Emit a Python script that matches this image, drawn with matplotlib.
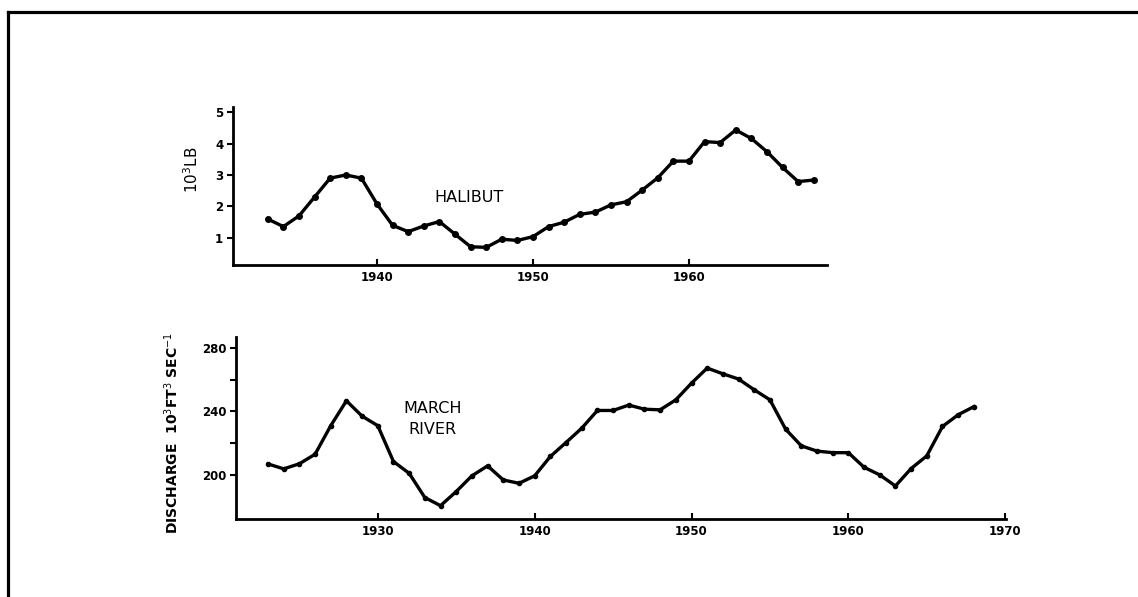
import matplotlib
matplotlib.use("Agg")
import matplotlib.pyplot as plt
from matplotlib.lines import Line2D

# halibut catch, 10^3 lb
hal_years = list(range(1933, 1969))
hal_vals = [1.6, 1.36, 1.7, 2.3, 2.9, 3.0, 2.9, 2.08, 1.4, 1.2, 1.38, 1.52,
            1.12, 0.72, 0.7, 0.96, 0.92, 1.04, 1.36, 1.5, 1.75, 1.82, 2.05, 2.15,
            2.52, 2.91, 3.44, 3.44, 4.06, 4.03, 4.43, 4.16, 3.74, 3.24, 2.79, 2.84]

# march river discharge, 10^3 ft^3 sec^-1
riv_years = list(range(1923, 1969))
riv_vals = [206.9, 203.8, 207, 213, 231, 246.7, 237, 231, 208.4, 201, 185.7, 180.6,
            189.5, 199.4, 205.7, 196.8, 194.7, 199.4, 211.6, 220.4, 229.4, 240.6,
            240.6, 244, 241.4, 241, 247.3, 257.8, 267.3, 263.7, 260.4, 253.6,
            247.3, 228.8, 218.3, 215, 214, 214, 204.8, 200, 193, 204, 212,
            230.5, 237.9, 243]

hal_ticks = [1940, 1950, 1960]
riv_ticks = [1930, 1940, 1950, 1960, 1970]

W, H = 1138, 597
fig = plt.figure(figsize=(W / 100, H / 100), dpi=100)

def px_axes(l, t, r, b):
    return fig.add_axes([l / W, 1 - b / H, (r - l) / W, (b - t) / H])

def style(ax):
    for s in ["top", "right"]:
        ax.spines[s].set_visible(False)
    for s in ["left", "bottom"]:
        ax.spines[s].set_linewidth(2.0)
    ax.tick_params(axis="x", direction="in", length=4, width=1.5, pad=4)
    ax.tick_params(axis="y", direction="out", length=4, width=1.5, pad=3)
    for lab in ax.get_xticklabels() + ax.get_yticklabels():
        lab.set_fontsize(8.5)
        lab.set_fontweight("bold")

# top panel
ax1 = px_axes(233, 107, 827, 265)
ax1.plot(hal_years, hal_vals, color="black", lw=2.4, marker="o", ms=4)
ax1.set_xlim(1930.77, 1968.85)
ax1.set_ylim(0.14, 5.16)
ax1.set_xticks(hal_ticks)
ax1.set_yticks([1, 2, 3, 4, 5])
style(ax1)
ax1.text(1945.9, 2.27, "HALIBUT", fontsize=11.5, ha="center", va="center")
fig.text(192 / W, 1 - 170 / H, "10$^3$LB", rotation=90, ha="center", va="center",
         fontsize=11)

# bottom panel
ax2 = px_axes(236, 337, 1006, 519)
ax2.plot(riv_years, riv_vals, color="black", lw=2.4, marker="o", ms=3)
ax2.set_xlim(1920.96, 1970.05)
ax2.set_ylim(172.2, 286.9)
ax2.set_xticks(riv_ticks)
ax2.set_yticks([200, 240, 280])
ax2.set_yticks([220, 260], minor=True)
style(ax2)
ax2.tick_params(axis="y", which="minor", direction="out", length=4, width=1.5)
ax2.text(1933.5, 246.5, "MARCH\nRIVER", fontsize=11.5, ha="center", va="top",
         linespacing=1.5)
fig.text(172 / W, 1 - 433 / H, "DISCHARGE  10$^3$FT$^3$ SEC$^{-1}$", rotation=90,
         ha="center", va="center", fontsize=10, fontweight="bold")

# scanned page border (top and left only)
fig.add_artist(Line2D([8 / W, 1], [1 - 11.5 / H, 1 - 11.5 / H], color="black", lw=2.3))
fig.add_artist(Line2D([8 / W, 8 / W], [0, 1 - 11.5 / H], color="black", lw=2.3))

fig.savefig("out.png", dpi=100)
